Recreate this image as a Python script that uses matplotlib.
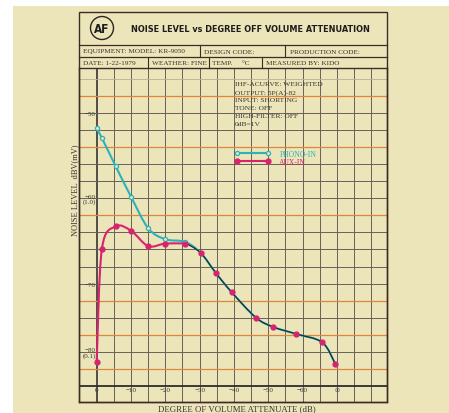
import numpy as np
import matplotlib
matplotlib.use('Agg')
import matplotlib.pyplot as plt
from matplotlib import font_manager
from matplotlib.lines import Line2D
from matplotlib.patches import Rectangle, Ellipse, PathPatch
from matplotlib.path import Path

# values: attenuation (dB) vs noise level (dBV)
phono_x = [0, -1.5, -5.5, -10, -15, -20, -25.7]
phono_y = [-51.8, -52.9, -56.2, -59.8, -63.5, -64.8, -65.1]
aux_x = [0, -1.5, -5.5, -10, -15, -20, -25.7]
aux_y = [-79.2, -66.0, -63.3, -63.8, -65.6, -65.3, -65.3]
# both inputs share this part of the curve
common_x = [-25.7, -30.3, -34.8, -39.3, -46.4, -51.5, -58.0, -65.7, -69.5]
common_y = [-65.2, -66.4, -68.8, -71.0, -74.0, -75.1, -75.9, -76.9, -79.4]

xtick_vals = [0, -10, -20, -30, -40, -50, -60, -70]
xtick_labels = ['0', '\u221210', '\u221220', '\u221230', '\u221240', '\u221250', '\u221260', '\u221e']
ytick_vals = [-50, -60, -70, -78]
ytick_labels = ['\u221250', '\u221260\n(1.0)', '\u221270', '\u221280\n(0.1)']

info_lines = ['IHF-ACURVE: WEIGHTED', 'OUTPUT: 5P(A)-82', 'INPUT: SHORTING',
              'TONE: OFF', 'HIGH-FILTER: OFF', '0dB=1V']

W, H = 449, 414
paper = '#ebe5b9'
ink = '#3a3330'
frame_c = '#3e2a26'
cyan = '#2bb3bb'
magenta = '#d8236e'

def fx(px):
    return px / W

def fy(py):
    return 1 - py / H

def pick_condensed():
    for fam, st in [('Liberation Sans Narrow', 'normal'), ('DejaVu Sans', 'condensed'),
                    ('Roboto Condensed', 'normal'), ('Open Sans Condensed', 'normal')]:
        try:
            p = font_manager.findfont(font_manager.FontProperties(family=fam, stretch=st, weight='bold'),
                                      fallback_to_default=False)
            if fam != 'DejaVu Sans' or 'Condensed' in p:
                return fam, st
        except Exception:
            pass
    return 'Roboto', 'normal'

cond_fam, cond_st = pick_condensed()
serif = 'Liberation Serif'

fig = plt.figure(figsize=(W / 100, H / 100), dpi=100)
fig.patch.set_facecolor('white')
fig.add_artist(Rectangle((fx(13), fy(414)), fx(449) - fx(13), fy(7) - fy(414),
                         transform=fig.transFigure, facecolor=paper, edgecolor='none', zorder=0))

ax = fig.add_axes([fx(79), fy(403), fx(386.7) - fx(79), fy(69) - fy(403)])
ax.set_facecolor('none')
ax.set_xlim(5.15, -84.5)
ax.set_ylim(-83.9, -44.7)

# graph paper grid
for gx in range(0, -85, -5):
    lw = 1.3 if gx == 0 else 0.7
    ax.axvline(gx, color='#45403c' if gx == 0 else '#66605a', lw=lw, zorder=1)
orange_rows = [-48, -54, -62, -72, -76, -80]
for gy in range(-82, -45, 2):
    if gy == -82:
        ax.axhline(gy, color='#2e2a28', lw=1.3, zorder=1)
    elif gy == -46:
        ax.axhline(gy, color='#b8b094', lw=0.6, zorder=1)
    elif gy in orange_rows:
        ax.axhline(gy, color='#e0863a', lw=0.9, zorder=1)
    else:
        ax.axhline(gy, color='#66605a', lw=0.7, zorder=1)

for s in ax.spines.values():
    s.set_color(frame_c)
    s.set_linewidth(1.0)

ax.set_xticks(xtick_vals)
ax.set_xticklabels(xtick_labels, family=serif, fontsize=5, color=ink)
ax.set_yticks(ytick_vals)
ax.set_yticklabels(ytick_labels, family=serif, fontsize=5, color=ink, linespacing=0.95)
ax.tick_params(axis='x', length=0, pad=-10.6)
ax.tick_params(axis='y', length=0, pad=-11.9)


def smooth(xs, ys):
    p = np.column_stack([xs, ys])
    verts = [p[0]]
    codes = [Path.MOVETO]
    n = len(p)
    for i in range(n - 1):
        p0 = p[i - 1] if i > 0 else p[i]
        p3 = p[i + 2] if i + 2 < n else p[i + 1]
        c1 = p[i] + (p[i + 1] - p0) / 6
        c2 = p[i + 1] - (p3 - p[i]) / 6
        verts += [c1, c2, p[i + 1]]
        codes += [Path.CURVE4] * 3
    return Path(verts, codes)

full_px = phono_x + common_x[1:]
full_py = phono_y + common_y[1:]
ax.add_patch(PathPatch(smooth(full_px, full_py), facecolor='none', edgecolor=cyan, lw=1.5, zorder=3))
ax.add_patch(PathPatch(smooth(aux_x, aux_y), facecolor='none', edgecolor=magenta, lw=1.5, zorder=3))
ax.add_patch(PathPatch(smooth(common_x, common_y), facecolor='none', edgecolor='#1f2a36', lw=0.9, zorder=4))

ax.plot(phono_x, phono_y, ls='none', marker='o', ms=3, mfc=paper, mec=cyan, mew=0.9, zorder=5)
ax.plot(aux_x, aux_y, ls='none', marker='o', ms=3.5, mfc=magenta, mec=magenta, zorder=5)
ax.plot(common_x[1:], common_y[1:], ls='none', marker='o', ms=3.5, mfc=magenta, mec=magenta, zorder=5)

# legend
h1 = Line2D([], [], color=cyan, lw=1.5, marker='o', ms=3, mfc=paper, mec=cyan, mew=0.9)
h2 = Line2D([], [], color=magenta, lw=1.5, marker='o', ms=3.5, mfc=magenta, mec=magenta)
fig.legend([h1, h2], ['PHONO-IN', 'AUX-IN'], loc='upper left',
           bbox_to_anchor=(fx(235), fy(151)), bbox_transform=fig.transFigure,
           frameon=False, numpoints=2, handlelength=4.6, handletextpad=1.2,
           labelspacing=0.0, borderpad=0, borderaxespad=0, labelcolor='linecolor',
           prop={'family': serif, 'size': 5.5})

for i, line in enumerate(info_lines):
    fig.text(fx(235), fy(85 + 7.8 * i), line, family=serif, fontsize=5.4, color=ink,
             va='center', ha='left')

# header table
fig.add_artist(Rectangle((fx(79), fy(403)), fx(386.7) - fx(79), fy(12.7) - fy(403),
                         transform=fig.transFigure, facecolor='none', edgecolor=frame_c, lw=1.0, zorder=6))
for yy in [46, 57.7]:
    fig.add_artist(Line2D([fx(79), fx(386.7)], [fy(yy), fy(yy)], color=frame_c, lw=0.9))
for xx in [200, 285]:
    fig.add_artist(Line2D([fx(xx), fx(xx)], [fy(46), fy(57.7)], color=frame_c, lw=0.8))
for xx in [148, 209, 262]:
    fig.add_artist(Line2D([fx(xx), fx(xx)], [fy(57.7), fy(69)], color=frame_c, lw=0.8))

row_kw = dict(family=serif, fontsize=5.2, color=ink, va='center', ha='left')
fig.text(fx(83), fy(52), 'EQUIPMENT: MODEL: KR-9050', **row_kw)
fig.text(fx(204), fy(52), 'DESIGN CODE:', **row_kw)
fig.text(fx(290), fy(52), 'PRODUCTION CODE:', **row_kw)
fig.text(fx(83), fy(63.5), 'DATE: 1-22-1979', **row_kw)
fig.text(fx(152), fy(63.5), 'WEATHER: FINE', **row_kw)
fig.text(fx(212), fy(63.5), 'TEMP.     \u00b0C', **row_kw)
fig.text(fx(266), fy(63.5), 'MEASURED BY: KIDO', **row_kw)

fig.add_artist(Ellipse((fx(102), fy(29)), 23 / W, 23 / H, transform=fig.transFigure,
                       facecolor='none', edgecolor='#2a2624', lw=1.0))
af = fig.text(fx(102), fy(29.5), 'AF', family=cond_fam, fontstretch=cond_st, weight='heavy',
              fontsize=8.5, color='#1e1c1c', ha='center', va='center')
title = fig.text(fx(131), fy(30), 'NOISE LEVEL vs DEGREE OFF VOLUME ATTENUATION',
                 family=cond_fam, fontstretch=cond_st, weight='heavy', fontsize=10,
                 color='#1e1c1c', ha='left', va='center')

r = fig.canvas.get_renderer()
bw = title.get_window_extent(r).width
title.set_fontsize(min(10 * 237 / bw, 12))

fig.text(fx(75), fy(190), 'NOISE LEVEL  dBV(mV)', family=serif, fontsize=6, color=ink,
         rotation=90, ha='center', va='center')
fig.text(fx(236.5), fy(409), 'DEGREE OF VOLUME ATTENUATE (dB)', family=serif, fontsize=6.3,
         color=ink, ha='center', va='center')

fig.savefig('out.png', dpi=100)
